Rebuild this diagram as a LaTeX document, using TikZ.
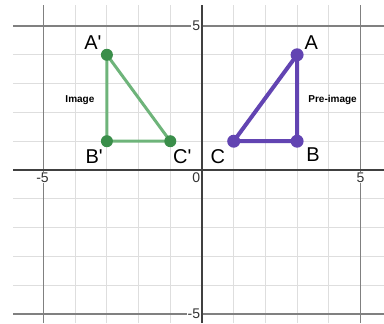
\documentclass[tikz,border=0pt]{standalone}
\usepackage{fontspec}
\setmainfont{Liberation Sans}
\definecolor{imgline}{RGB}{110,180,122}
\definecolor{imgdot}{RGB}{58,142,74}
\definecolor{preline}{RGB}{98,68,178}
\definecolor{gridlight}{RGB}{222,222,222}
\definecolor{gridmajor}{RGB}{128,128,128}
\definecolor{axisdark}{RGB}{64,64,64}
\tikzset{
 minorline/.style={gridlight,line width=1pt},
 majorline/.style={gridmajor,line width=1.5pt},
 axisline/.style={axisdark,line width=2pt},
 ticklabel/.style={fill=white,inner sep=1pt,font=\fontsize{14}{15}\selectfont,text=black!80},
 ptlabel/.style={font=\fontsize{20}{22}\selectfont},
 tagtext/.style={font=\bfseries\fontsize{10}{12}\selectfont},
}
\newcommand{\prm}{\textquotesingle}
\begin{document}
\begin{tikzpicture}[x=31.7pt,y=28.8pt]
 \useasboundingbox (-6.372,-5.3125) rectangle (5.741,5.903);
 % grid
 \foreach \x in {-4,...,4} \draw[minorline] (\x,-5.32)--(\x,5.73);
 \foreach \y in {-4,...,4} \draw[minorline] (-5.95,\y)--(5.75,\y);
 \foreach \t in {-5,5} {
  \draw[majorline] (\t,-5.32)--(\t,5.73);
  \draw[majorline] (-5.95,\t)--(5.75,\t);
 }
 \draw[axisline] (-5.95,0)--(5.75,0);
 \draw[axisline] (0,-5.32)--(0,5.73);
 \node[ticklabel,left] (y5) at (-0.02,5) {5};
 \node[ticklabel,left] (ym5) at (-0.02,-5) {-5};
 \node[ticklabel,below left] (o) at (-0.02,-0.05) {0};
 \node[ticklabel,below] (xm5) at (-5.03,-0.05) {-5};
 \node[ticklabel,below] (x5) at (5,-0.05) {5};
 % image
 \coordinate (A') at (-3,4);
 \coordinate (B') at (-3,1);
 \coordinate (C') at (-1,1);
 \draw[imgline,line width=3pt,line join=round] (A')--(B')--(C')--cycle;
 \foreach \p in {A',B',C'} \fill[imgdot] (\p) circle (6pt);
 % pre-image
 \coordinate (A) at (3,4);
 \coordinate (B) at (3,1);
 \coordinate (C) at (1,1);
 \draw[preline,line width=4pt,line join=round] (A)--(B)--(C)--cycle;
 \foreach \p in {A,B,C} \fill[preline] (\p) circle (6.5pt);
 % labels
 \node[ptlabel] (la') at (-3.44,4.44) {A\prm};
 \node[ptlabel] (lb') at (-3.4,0.45) {B\prm};
 \node[ptlabel] (lc') at (-0.62,0.45) {C\prm};
 \node[ptlabel] (lc) at (0.5,0.45) {C};
 \node[ptlabel] (lb) at (3.5,0.55) {B};
 \node[ptlabel] (la) at (3.45,4.44) {A};
 \node[tagtext] (img) at (-3.85,2.43) {Image};
 \node[tagtext] (pre) at (4.12,2.45) {Pre-image};
\end{tikzpicture}
\end{document}
